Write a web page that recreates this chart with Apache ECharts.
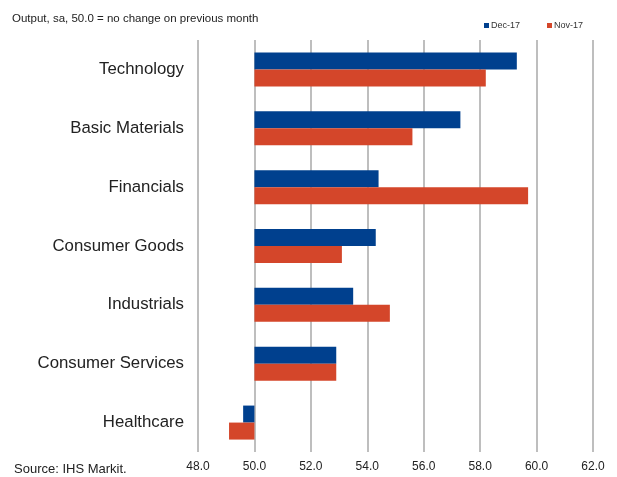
<!DOCTYPE html>
<html>
<head>
<meta charset="utf-8">
<script src="https://cdn.jsdelivr.net/npm/echarts@6/dist/echarts.min.js"></script>
<style>
  html, body { margin: 0; padding: 0; background: #fff; }
  #chart { width: 617px; height: 477px; }
</style>
</head>
<body>
<div id="chart"></div>
<script>
// sectors, top to bottom
var sectors = ["Technology", "Basic Materials", "Financials", "Consumer Goods", "Industrials", "Consumer Services", "Healthcare"];
var dec17 = [59.3, 57.3, 54.4, 54.3, 53.5, 52.9, 49.6];
var nov17 = [58.2, 55.6, 59.7, 53.1, 54.8, 52.9, 49.1];
var baseLine = 50;
var ticks = [48, 50, 52, 54, 56, 58, 60, 62];

// bars are drawn from 50.0 (no change), so plot the offset from it
function offset(arr) {
  return arr.map(function (v) { return +(v - baseLine).toFixed(2); });
}

var myChart = echarts.init(document.getElementById("chart"));

var option = {
  animation: false,
  title: [
    {
      text: "Output, sa, 50.0 = no change on previous month",
      left: 7, top: 8,
      textStyle: { fontFamily: "Liberation Sans", fontSize: 11.5, fontWeight: "normal", color: "#222" }
    },
    {
      text: "Source: IHS Markit.",
      left: 9, top: 458,
      textStyle: { fontFamily: "Liberation Sans", fontSize: 13, fontWeight: "normal", color: "#222" }
    }
  ],
  legend: {
    data: ["Dec-17", "Nov-17"],
    left: 479, top: 16,
    icon: "rect",
    itemWidth: 5, itemHeight: 5, itemGap: 27,
    textStyle: { fontFamily: "Liberation Sans", fontSize: 9, color: "#333", padding: [0, 0, 0, -3] }
  },
  grid: { left: 198, right: 24, top: 40, bottom: 25 },
  xAxis: {
    type: "value",
    min: ticks[0] - baseLine,
    max: ticks[ticks.length - 1] - baseLine,
    interval: 2,
    axisLine: { show: false },
    axisTick: { show: false },
    splitLine: { show: true, lineStyle: { color: "#a8a8a8", width: 1.5 } },
    axisLabel: {
      margin: 9,
      fontFamily: "Liberation Sans", fontSize: 12, color: "#222",
      formatter: function (v) { return (v + baseLine).toFixed(1); }
    }
  },
  yAxis: {
    type: "category",
    data: sectors,
    inverse: true,
    axisLine: { show: false },
    axisTick: { show: false },
    axisLabel: { margin: 14, fontFamily: "Liberation Sans", fontSize: 16.8, color: "#222", padding: [3, 0, 0, 0] }
  },
  series: [
    {
      name: "Dec-17",
      type: "bar",
      data: offset(dec17),
      barWidth: 17,
      barGap: "0%",
      itemStyle: { color: "#00408e" }
    },
    {
      name: "Nov-17",
      type: "bar",
      data: offset(nov17),
      barWidth: 17,
      barGap: "0%",
      itemStyle: { color: "#d4462a" }
    }
  ]
};

myChart.setOption(option);
</script>
</body>
</html>
